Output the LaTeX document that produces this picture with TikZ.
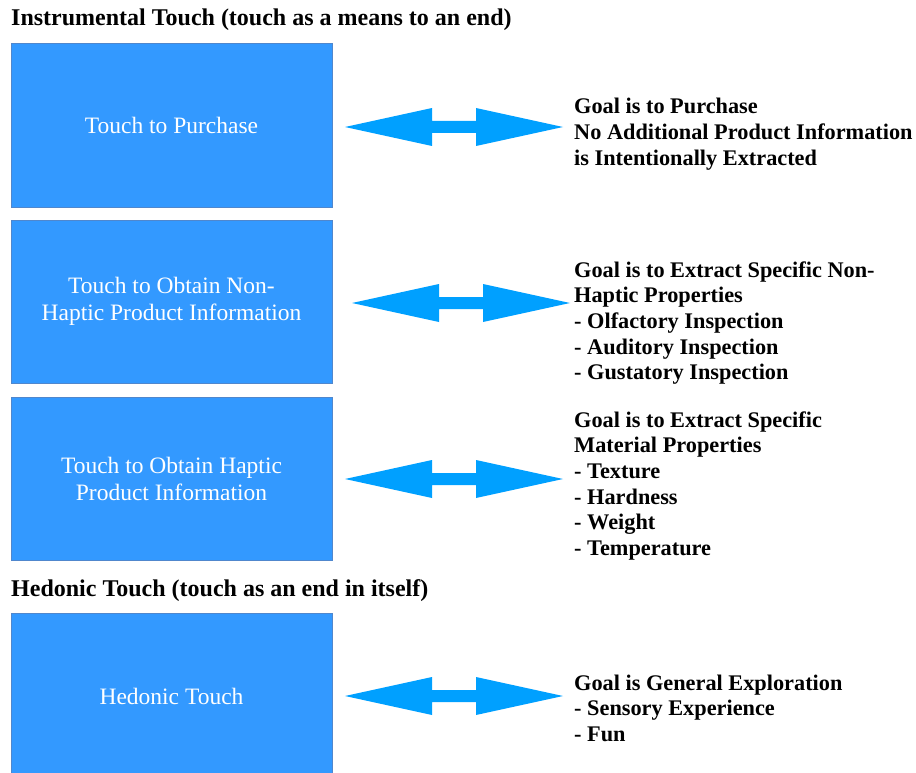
\documentclass[tikz,border=0pt]{standalone}
\usepackage{fontspec}
\setmainfont{Liberation Serif}[BoldFont={Liberation Serif Bold}]
\definecolor{boxfill}{RGB}{51,153,255}
\definecolor{boxedge}{RGB}{80,135,205}
\definecolor{arrowblue}{RGB}{0,160,255}
\begin{document}
\begin{tikzpicture}[x=1pt,y=-1pt,
  tbox/.style={fill=boxfill,draw=boxedge,line width=0.8pt,minimum width=321pt,
    text=white,align=center,font=\fontsize{23.5}{27}\selectfont,inner sep=0pt},
  goal/.style={anchor=base west,inner sep=0pt,font=\fontsize{22.3}{25.7}\selectfont\bfseries},
  heading/.style={anchor=base west,inner sep=0pt,font=\fontsize{24}{26}\selectfont\bfseries},
  dblarrow/.pic={\fill[arrowblue] (0,0) -- (87,-19) -- (87,-6) -- (131,-6) -- (131,-19)
     -- (218,0) -- (131,19) -- (131,6) -- (87,6) -- (87,19) -- cycle;}]
\clip (0,0) rectangle (916,773);
\fill[white] (0,0) rectangle (916,773);

\node[heading] (h1) at (11,26) {Instrumental Touch (touch as a means to an end)};
\node[heading] (h2) at (11,596) {Hedonic Touch (touch as an end in itself)};

\node[tbox,minimum height=164pt] (b1) at (171.5,125) {Touch to Purchase};
\node[tbox,minimum height=163pt] (b2) at (171.5,301.5) {Touch to Obtain Non-\\Haptic Product Information};
\node[tbox,minimum height=163pt] (b3) at (171.5,478.5) {Touch to Obtain Haptic\\Product Information};
\node[tbox,minimum height=166pt] (b4) at (171.5,696) {Hedonic Touch};

\pic at (345,127) {dblarrow};
\pic at (352,303) {dblarrow};
\pic at (345,479) {dblarrow};
\pic at (345,696) {dblarrow};

\node[goal] (g1) at (574,114) {\begin{tabular}[t]{@{}l@{}}Goal is to Purchase\\No Additional Product Information\\is Intentionally Extracted\end{tabular}};
\node[goal] (g2) at (574,277) {\begin{tabular}[t]{@{}l@{}}Goal is to Extract Specific Non-\\Haptic Properties\\- Olfactory Inspection\\- Auditory Inspection\\- Gustatory Inspection\end{tabular}};
\node[goal] (g3) at (574,427) {\begin{tabular}[t]{@{}l@{}}Goal is to Extract Specific\\Material Properties\\- Texture\\- Hardness\\- Weight\\- Temperature\end{tabular}};
\node[goal] (g4) at (574,690) {\begin{tabular}[t]{@{}l@{}}Goal is General Exploration\\- Sensory Experience\\- Fun\end{tabular}};
\end{tikzpicture}
\end{document}
